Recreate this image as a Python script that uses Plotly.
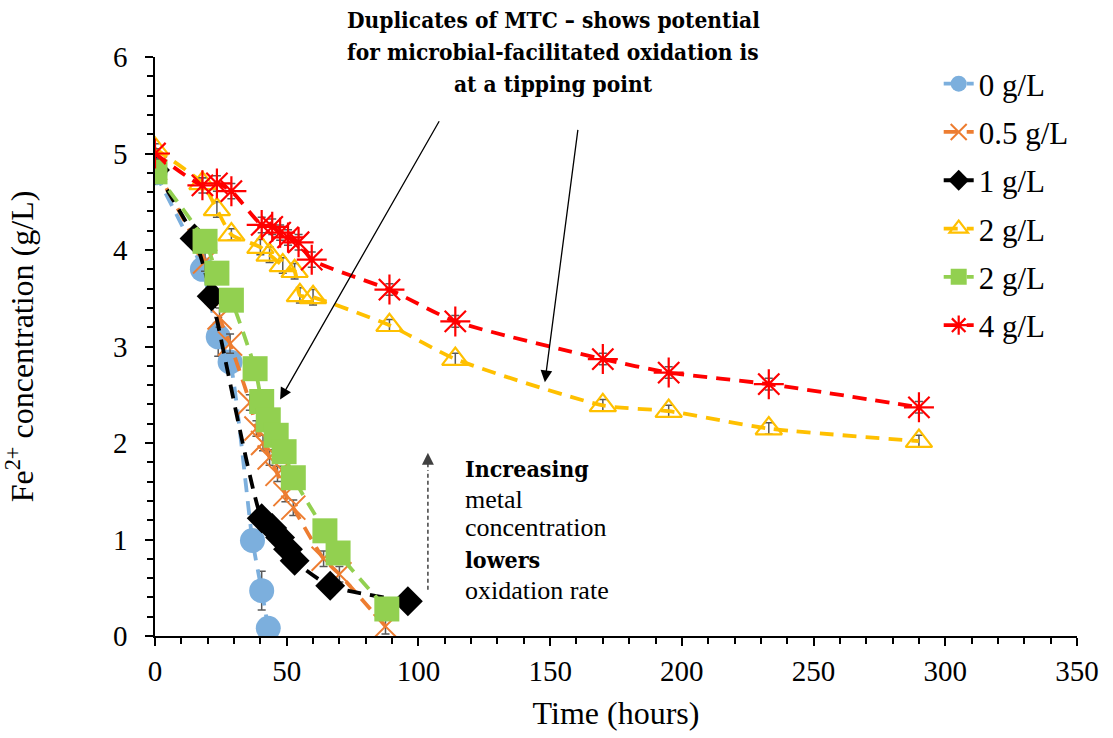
import plotly.graph_objects as go

# ---------------- data ----------------
t_0 = [0, 18, 24, 28.5, 37, 40.5, 43]
c_0 = [4.80, 3.80, 3.10, 2.84, 0.99, 0.47, 0.08]
e_0 = [0.05, 0.06, 0.2, 0.1, 0.1, 0.2, 0.05]

t_05 = [0, 19, 24.5, 28.5, 36, 38.5, 41, 43.5, 46.5, 49.5, 52.5, 64, 70, 87.5]
c_05 = [4.85, 3.88, 3.30, 3.03, 2.42, 2.15, 2.00, 1.85, 1.68, 1.47, 1.33, 0.80, 0.64, 0.10]
e_05 = [0.05, 0.1, 0.1, 0.1, 0.08, 0.08, 0.08, 0.08, 0.08, 0.08, 0.08, 0.08, 0.08, 0.08]

t_1 = [0, 15, 21.5, 40.5, 44.5, 47.5, 50.5, 53, 66.5, 96]
c_1 = [4.83, 4.12, 3.52, 1.22, 1.12, 1.02, 0.90, 0.78, 0.52, 0.36]
e_1 = [0.05, 0.08, 0.08, 0.06, 0.06, 0.06, 0.06, 0.06, 0.06, 0.06]

t_2a = [0, 18, 23.5, 29, 40, 43.5, 48.5, 53, 55, 60, 89, 114, 170, 195, 233, 290]
c_2a = [5.05, 4.69, 4.42, 4.16, 4.03, 3.95, 3.84, 3.78, 3.53, 3.51, 3.22, 2.87, 2.39, 2.33, 2.15, 2.02]
e_2a = [0.05, 0.06, 0.08, 0.06, 0.08, 0.08, 0.08, 0.08, 0.08, 0.08, 0.06, 0.06, 0.06, 0.06, 0.06, 0.06]

t_2b = [0, 19, 23.5, 29, 38, 40.5, 43, 46, 49, 52.5, 64.5, 69.5, 88]
c_2b = [4.81, 4.09, 3.76, 3.48, 2.77, 2.43, 2.24, 2.08, 1.91, 1.64, 1.09, 0.86, 0.28]
e_2b = [0.05, 0.1, 0.1, 0.1, 0.1, 0.1, 0.1, 0.1, 0.1, 0.1, 0.1, 0.1, 0.1]

t_4 = [0, 18, 23.5, 29, 40.5, 44.5, 47.5, 50.5, 54.5, 59.5, 89, 114, 170, 195, 233, 290]
c_4 = [5.00, 4.67, 4.69, 4.61, 4.26, 4.24, 4.18, 4.13, 4.08, 3.90, 3.59, 3.26, 2.87, 2.73, 2.61, 2.37]
e_4 = [0.05, 0.08, 0.08, 0.08, 0.08, 0.08, 0.08, 0.08, 0.08, 0.08, 0.06, 0.06, 0.06, 0.06, 0.06, 0.06]

series_names = ["0 g/L", "0.5 g/L", "1 g/L", "2 g/L", "2 g/L", "4 g/L"]
x_ticks = [0, 50, 100, 150, 200, 250, 300, 350]
y_ticks = [0, 1, 2, 3, 4, 5, 6]

title_lines = ["Duplicates of MTC – shows potential",
               "for microbial-facilitated oxidation is",
               "at a tipping point"]
title_px_y = [20, 52, 84]

note_lines = ["Increasing", "metal", "concentration", "lowers", "oxidation rate"]
note_bold = [True, False, False, True, False]
note_y = [1.74, 1.41, 1.12, 0.79, 0.47]

FONT = "Liberation Serif, Times New Roman, serif"
BOLD_FONT = "DejaVu Serif Condensed, DejaVu Serif, serif"
DASH = "14px,9px"
ERR = "#595959"

styles = [
    dict(color="#7CAFDD", symbol="circle", size=25, lw=0),
    dict(color="#ED7D31", symbol="x-thin-open", size=24, lw=2),
    dict(color="#000000", symbol="diamond", size=23, lw=0),
    dict(color="#FFC000", symbol="triangle-up-open", size=23, lw=2.2),
    dict(color="#92D050", symbol="square", size=25, lw=0),
    dict(color="#FF0000", symbol="asterisk-open", size=25, lw=2.2),
]
data = [(t_0, c_0, e_0), (t_05, c_05, e_05), (t_1, c_1, e_1),
        (t_2a, c_2a, e_2a), (t_2b, c_2b, e_2b), (t_4, c_4, e_4)]

fig = go.Figure()
for i, ((tx, cy, ey), st, nm) in enumerate(zip(data, styles, series_names)):
    fig.add_trace(go.Scatter(
        x=tx, y=cy, name=nm, mode="lines+markers", legendgroup=f"g{i}",
        line=dict(color=st["color"], width=3.8, dash=DASH, shape="spline", smoothing=0.6),
        marker=dict(symbol=st["symbol"], size=st["size"], color=st["color"],
                    line=dict(color=st["color"], width=st["lw"])),
        error_y=dict(type="data", array=ey, color=ERR, thickness=1.5, width=4),
    ))

# top annotation lines (paper coords, above plot area)
for txt, py in zip(title_lines, title_px_y):
    fig.add_annotation(
        x=(553 - 155) / 922, y=(636 - py) / 579, xref="paper", yref="paper",
        yanchor="middle", xanchor="center", text=f"<b>{txt}</b>",
        showarrow=False, font=dict(family=BOLD_FONT, size=22.5, color="black"))

fig.add_annotation(x=47.5, y=2.45, ax=108.2, ay=5.35, xref="x", yref="y", axref="x", ayref="y",
                   text="", showarrow=True, arrowhead=2, arrowsize=1.8, arrowwidth=1.3, arrowcolor="black")
fig.add_annotation(x=148, y=2.63, ax=160.6, ay=5.26, xref="x", yref="y", axref="x", ayref="y",
                   text="", showarrow=True, arrowhead=2, arrowsize=1.8, arrowwidth=1.3, arrowcolor="black")

fig.add_shape(type="line", x0=103.6, x1=103.6, y0=0.48, y1=1.72, xref="x", yref="y",
              line=dict(color="#404040", width=1.5, dash="4px,3px"))
fig.add_annotation(x=103.6, y=1.9, ax=0, ay=16, xref="x", yref="y",
                   text="", showarrow=True, arrowhead=2, arrowsize=1.6, arrowwidth=1.5, arrowcolor="#404040")

for txt, bold, yy in zip(note_lines, note_bold, note_y):
    fig.add_annotation(
        x=116.8, y=yy, xref="x", yref="y", xanchor="left", yanchor="middle",
        text=f"<b>{txt}</b>" if bold else txt, showarrow=False, align="left",
        font=dict(family=BOLD_FONT if bold else FONT, size=23 if bold else 26, color="black"))

fig.update_layout(
    width=1113, height=738,
    margin=dict(l=155, r=36, t=57, b=102),
    paper_bgcolor="white", plot_bgcolor="white",
    font=dict(family=FONT, size=29, color="black"),
    showlegend=True,
    legend=dict(x=0.85, y=1.0, xanchor="left", yanchor="top", bgcolor="rgba(0,0,0,0)",
                font=dict(family=FONT, size=31, color="black"), tracegroupgap=5),
    xaxis=dict(range=[0, 350], tickvals=x_ticks, ticks="outside", ticklen=8, tickwidth=1.5,
               tickcolor="black", showline=True, linecolor="black", linewidth=1.5,
               showgrid=False, zeroline=False,
               minor=dict(dtick=10, ticks="outside", ticklen=6, tickcolor="black", tickwidth=1.5),
               tickfont=dict(family=FONT, size=29),
               title=dict(text="Time (hours)", font=dict(family=FONT, size=32), standoff=16)),
    yaxis=dict(range=[0, 6], tickvals=y_ticks, ticks="outside", ticklen=8, tickwidth=1.5,
               tickcolor="black", showline=True, linecolor="black", linewidth=1.5,
               showgrid=False, zeroline=False,
               minor=dict(dtick=0.2, ticks="outside", ticklen=6, tickcolor="black", tickwidth=1.5),
               tickfont=dict(family=FONT, size=29), ticklabelstandoff=12,
               title=dict(text="Fe<sup>2+</sup> concentration (g/L)", font=dict(family=FONT, size=32), standoff=70)),
)

fig.write_html("out.html")
